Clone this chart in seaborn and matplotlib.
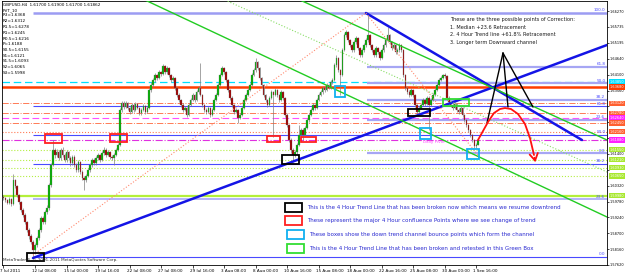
import numpy as np
import matplotlib
matplotlib.use("Agg")
import matplotlib.pyplot as plt
import matplotlib.transforms as mtransforms
from matplotlib.patches import Rectangle
import seaborn as sns

sns.set_style("white")
plt.rcParams['font.family'] = ['DejaVu Sans']

# ---------------- data ----------------
BASE, PIP = 1.5700, 0.0001
open_first = 295
close_pips = [
    290, 283, 273, 287, 270, 351, 331, 300, 277, 249,
    232, 208, 181, 161, 140, 113, 130, 154, 181, 222,
    208, 242, 256, 334, 403, 454, 437, 447, 426, 454,
    437, 420, 447, 426, 409, 430, 403, 386, 413, 379,
    358, 351, 365, 386, 403, 420, 409, 426, 437, 420,
    443, 454, 437, 447, 430, 426, 437, 454, 471, 590,
    614, 600, 614, 597, 583, 607, 590, 610, 597, 580,
    590, 603, 583, 597, 658, 675, 692, 709, 699, 719,
    712, 740, 719, 733, 709, 692, 699, 665, 641, 624,
    607, 590, 597, 573, 607, 624, 641, 624, 651, 665,
    641, 607, 590, 583, 597, 573, 590, 624, 641, 675,
    709, 733, 719, 692, 658, 631, 607, 583, 590, 563,
    573, 597, 624, 641, 658, 675, 709, 726, 753, 733,
    699, 675, 641, 624, 607, 631, 651, 641, 658, 641,
    624, 651, 631, 573, 539, 488, 454, 437, 447, 471,
    505, 522, 505, 529, 556, 573, 590, 607, 597, 624,
    641, 651, 665, 658, 675, 665, 685, 692, 743, 767,
    726, 709, 794, 845, 856, 828, 811, 794, 821, 835,
    801, 777, 794, 811, 828, 845, 811, 794, 777, 801,
    787, 767, 794, 811, 828, 845, 821, 801, 811, 787,
    794, 811, 794, 709, 665, 651, 641, 658, 641, 607,
    583, 597, 607, 624, 610, 631, 607, 624, 641, 658,
    675, 692, 699, 709, 706, 631, 617, 607, 597, 610,
    590, 583, 597, 573, 556, 539, 522, 505, 488, 466,
    470, 486]
high_pips = [
    300, 294, 287, 292, 290, 372, 356, 334, 305, 281,
    256, 238, 213, 188, 166, 146, 138, 160, 187, 230,
    229, 249, 266, 340, 410, 488, 462, 458, 452, 461,
    465, 442, 453, 451, 433, 437, 436, 410, 420, 417,
    384, 366, 372, 392, 410, 428, 426, 434, 445, 441,
    449, 463, 460, 455, 451, 436, 442, 459, 478, 597,
    622, 619, 620, 617, 601, 613, 612, 616, 614, 600,
    596, 610, 607, 604, 664, 684, 699, 716, 714, 726,
    724, 748, 744, 740, 737, 713, 706, 703, 668, 647,
    629, 612, 604, 601, 612, 630, 648, 645, 657, 672,
    750, 646, 611, 596, 603, 600, 595, 630, 648, 681,
    716, 740, 737, 723, 696, 662, 636, 611, 597, 594,
    580, 603, 630, 647, 664, 682, 716, 734, 767, 758,
    738, 703, 679, 646, 629, 637, 657, 656, 665, 663,
    645, 658, 655, 635, 578, 543, 493, 460, 455, 478,
    539, 530, 527, 535, 563, 580, 597, 613, 611, 630,
    647, 658, 671, 670, 681, 679, 691, 700, 750, 776,
    771, 730, 801, 853, 864, 860, 833, 816, 828, 842,
    839, 805, 800, 818, 836, 920, 850, 815, 798, 807,
    806, 791, 800, 817, 834, 873, 849, 826, 817, 815,
    800, 818, 815, 798, 714, 670, 657, 665, 663, 645,
    611, 603, 613, 630, 629, 637, 636, 630, 647, 664,
    682, 698, 706, 714, 716, 710, 636, 622, 612, 616,
    614, 595, 602, 600, 577, 560, 543, 526, 509, 492,
    476, 490]
low_pips = [
    284, 278, 268, 269, 264, 266, 325, 294, 270, 243,
    226, 201, 174, 152, 132, 89, 100, 124, 148, 176,
    200, 203, 236, 250, 328, 398, 428, 431, 418, 420,
    430, 412, 414, 419, 400, 402, 396, 378, 380, 372,
    350, 317, 344, 360, 380, 397, 401, 404, 420, 413,
    416, 438, 430, 432, 423, 418, 403, 433, 449, 466,
    584, 593, 595, 590, 575, 579, 584, 586, 592, 572,
    574, 586, 576, 578, 593, 652, 669, 686, 692, 694,
    705, 708, 713, 714, 703, 685, 687, 659, 634, 617,
    600, 583, 585, 566, 569, 603, 620, 618, 620, 646,
    636, 600, 584, 576, 579, 566, 568, 586, 619, 637,
    670, 704, 712, 686, 651, 624, 600, 576, 578, 545,
    558, 569, 592, 619, 636, 653, 670, 704, 720, 726,
    693, 668, 634, 617, 600, 603, 627, 498, 636, 635,
    617, 619, 625, 566, 532, 480, 445, 413, 430, 441,
    466, 498, 488, 500, 524, 550, 568, 585, 591, 592,
    619, 636, 646, 652, 653, 660, 661, 680, 688, 738,
    720, 641, 705, 790, 838, 821, 804, 787, 789, 816,
    795, 770, 772, 789, 806, 823, 805, 788, 770, 772,
    781, 760, 763, 789, 806, 823, 815, 795, 796, 780,
    782, 789, 788, 703, 658, 645, 634, 636, 634, 600,
    569, 578, 592, 602, 604, 606, 522, 602, 619, 636,
    653, 670, 687, 694, 700, 625, 611, 600, 590, 592,
    584, 576, 578, 567, 549, 532, 515, 498, 480, 460,
    462, 470]

x_tick_bars = [0, 16, 32, 48, 64, 80, 96, 112, 128, 144, 160, 176, 192, 208, 224, 240]
x_tick_labels = ["7 Jul 2011", "12 Jul 08:00", "15 Jul 00:00", "19 Jul 16:00", "22 Jul 08:00",
                 "27 Jul 08:00", "29 Jul 16:00", "3 Aug 08:00", "8 Aug 00:00", "10 Aug 16:00",
                 "15 Aug 08:00", "18 Aug 00:00", "22 Aug 16:00", "25 Aug 08:00", "30 Aug 00:00",
                 "1 Sep 16:00"]
y_tick_labels = ["1.66270", "1.65735", "1.65195", "1.64640", "1.64100", "1.63560", "1.63020",
                 "1.62480", "1.61940", "1.61400", "1.60860", "1.60320", "1.59780", "1.59240",
                 "1.58700", "1.58160", "1.57620"]

pivot_names = ["R3", "R2", "R1.5", "R1", "R0.5", "P", "S0.5", "S1", "S1.5", "S2", "S3"]
pivot_vals = [1.6368, 1.6312, 1.6278, 1.6245, 1.6216, 1.6188, 1.6155, 1.6121, 1.6093, 1.6065, 1.5998]
pivot_colors = ['#ff3d00', '#ff7a55', '#ff7a55', '#ff7a55', '#ff7a55', '#e030e0',
                '#b4ee44', '#b4ee44', '#b4ee44', '#b4ee44', '#b4f03a']
pivot_styles = ['-', '-.', '-.', '-.', ':', '-.', ':', ':', ':', ':', '-']
pivot_widths = [1.8, 0.7, 0.7, 0.7, 0.8, 0.8, 0.8, 0.8, 0.8, 0.8, 1.6]
extra_levels = [1.6385, 1.6264]
extra_colors = ['#00e0ff', '#ff50ff']

fib_ratios = [0.0, 23.6, 38.2, 50.0, 61.8, 100.0]
fib1_low, fib1_high, fib1_start = 1.5790, 1.6620, 15
fib2_low, fib2_high, fib2_start = 1.6143, 1.6620, 184.5

# trend lines: (bars, prices, color, width, style)
trend_lines = {
    "4h_uptrend": ([14.97, 306.35], [1.57857, 1.65112], '#1414e6', 1.8, '-'),
    "downtrend": ([184.0, 293.65], [1.66202, 1.61876], '#1414e6', 1.8, '-'),
    "channel_low": ([71.83, 306.35], [1.66645, 1.59254], '#22cc22', 1.0, '-'),
    "channel_high": ([150.5, 306.35], [1.66645, 1.61876], '#22cc22', 1.0, '-'),
    "channel_mid": ([112.44, 306.35], [1.66645, 1.60786], '#88dd66', 0.8, ':'),
    "fan_up": ([14.97, 184.0], [1.57959, 1.66202], '#ff8a70', 0.8, ':'),
    "fan_down": ([184.0, 241.9], [1.66202, 1.61263], '#ff8a70', 0.8, ':'),
    "proj_left": ([253.55, 245.43], [1.64839, 1.62455], '#000000', 1.0, '-'),
    "proj_mid": ([253.55, 256.09], [1.64839, 1.63000], '#000000', 1.0, '-'),
    "proj_right": ([253.55, 268.78], [1.64839, 1.63000], '#000000', 1.0, '-'),
}
arrow_bars = [240.86, 245.94, 248.98, 252.03, 254.57, 257.61, 261.17, 264.72, 267.26, 269.29, 270.3]
arrow_prices = [1.61876, 1.62489, 1.62796, 1.62932, 1.62966, 1.62932, 1.62762, 1.62421,
                1.61944, 1.61366, 1.61025]

# boxes: (bar0, bar1, price_low, price_high, color)
boxes = [
    (11.93, 20.56, 1.57755, 1.58027, 'black'),
    (141.37, 150.0, 1.61059, 1.61365, 'black'),
    (205.33, 216.5, 1.62694, 1.62932, 'black'),
    (21.07, 29.7, 1.61774, 1.62081, '#ff2020'),
    (54.06, 62.69, 1.61808, 1.62081, '#ff2020'),
    (133.76, 140.36, 1.61808, 1.62013, '#ff2020'),
    (151.0, 158.63, 1.61808, 1.61979, '#ff2020'),
    (168.27, 173.35, 1.63341, 1.63716, '#10b0f0'),
    (211.42, 217.0, 1.61910, 1.62285, '#10b0f0'),
    (235.28, 241.37, 1.61229, 1.61570, '#10b0f0'),
    (223.1, 236.3, 1.63034, 1.63273, '#33dd33'),
]

legend_colors = ['black', '#ff2020', '#10b0f0', '#33dd33']
legend_texts = [
    "This is the 4 Hour Trend Line that has been broken now which means we resume downtrend",
    "These represent the major 4 Hour confluence Points where we see change of trend",
    "These boxes show the down trend channel bounce points which form the channel",
    "This is the 4 Hour Trend Line that has been broken and retested in this Green Box",
]
note_lines = ["These are the three possible points of Correction:",
              "1. Median +23.6 Retracement",
              "2. 4 Hour Trend line +61.8% Retracement",
              "3. Longer term Downward channel"]
header = "GBPUSD,H4  1.61700 1.61900 1.61700 1.61862"

# ---------------- figure ----------------
W, H = 625, 272
fig = plt.figure(figsize=(W / 100, H / 100), dpi=100)
ax = fig.add_axes([2 / W, 7 / H, 605 / W, 264 / H])
ax.set_xlim(-0.76, 306.35)
ax.set_ylim(1.57619, 1.66611)

# horizontal pivot levels
for v, col, ls, lw in zip(pivot_vals, pivot_colors, pivot_styles, pivot_widths):
    ax.axhline(v, color=col, ls=ls, lw=lw, zorder=1)
ax.axhline(extra_levels[0], color=extra_colors[0], ls=(0, (6, 3)), lw=0.9, zorder=1)
ax.axhline(extra_levels[1], color=extra_colors[1], ls=(0, (6, 3)), lw=0.8, zorder=1)

# fibonacci levels
for r in fib_ratios:
    p1 = fib1_low + (fib1_high - fib1_low) * r / 100
    if r == 100.0:
        ax.hlines(p1, fib1_start, 306.35, color='#9c9cf2', lw=1.8, zorder=1)
    elif r == 23.6:
        ax.hlines(p1, fib1_start, 306.35, color='#a8a8f8', lw=1.2, zorder=1)
    else:
        ax.hlines(p1, fib1_start, 306.35, color='#4a4aff', lw=0.8, zorder=1)
    ax.text(305.5, p1 + 0.0002, f"{r:.1f}", color='#4a4aff', fontsize=3, ha='right', va='bottom')
    if r not in (0.0, 100.0):
        p2 = fib2_low + (fib2_high - fib2_low) * r / 100
        ax.hlines(p2, fib2_start, 306.35, color='#a6a6f4', lw=1.6, zorder=1)
        ax.text(305.5, p2 + 0.0002, f"{r:.1f}", color='#4a4aff', fontsize=3, ha='right', va='bottom')
ax.hlines(fib2_low, fib2_start, 306.35, color='#a6a6f4', lw=1.6, zorder=1)
ax.text(305.5, fib2_low + 0.0002, "0.0", color='#4a4aff', fontsize=3, ha='right', va='bottom')

# candles
c = BASE + np.array(close_pips) * PIP
o = np.r_[BASE + open_first * PIP, c[:-1]]
hi = BASE + np.array(high_pips) * PIP
lo = BASE + np.array(low_pips) * PIP
idx = np.arange(len(c))
ax.vlines(idx, lo, hi, color='#808080', lw=0.5, zorder=3)
up = c >= o
body = np.maximum(np.abs(c - o), 0.00008)
bottom = np.minimum(o, c)
ax.bar(idx[up], body[up], bottom=bottom[up], width=0.8, color='#00b000',
       edgecolor='#707070', linewidth=0.2, zorder=4)
ax.bar(idx[~up], body[~up], bottom=bottom[~up], width=0.8, color='#a00000',
       edgecolor='#707070', linewidth=0.2, zorder=4)

# trend lines (seaborn)
for name, (xs, ys, col, lw, ls) in trend_lines.items():
    sns.lineplot(x=xs, y=ys, ax=ax, color=col, lw=lw, linestyle=ls, sort=False,
                 estimator=None, legend=False, zorder=5)

# red projection arrow
sns.lineplot(x=arrow_bars[:-1], y=arrow_prices[:-1], ax=ax, color='#ff1010', lw=1.3,
             sort=False, estimator=None, legend=False, zorder=6)
ax.annotate('', xy=(arrow_bars[-1], arrow_prices[-1]), xytext=(arrow_bars[-2], arrow_prices[-2]),
            arrowprops=dict(arrowstyle='->,head_length=0.5,head_width=0.3', color='#ff1010', lw=1.3),
            zorder=6)

# boxes
for b0, b1, pl, ph, col in boxes:
    ax.add_patch(Rectangle((b0, pl), b1 - b0, ph - pl, fill=False, edgecolor=col, lw=1.3, zorder=7))

ax.text(213, 1.6182, "Daily Pivot", color='#ff50ff', fontsize=3, ha='left', va='center')

# right price tags
tag_prices = [extra_levels[0]] + pivot_vals[:4] + [extra_levels[1]] + pivot_vals[4:]
tag_colors = [extra_colors[0]] + pivot_colors[:4] + ['#ff20ff'] + pivot_colors[4:]
tag_colors = ['#ff20ff' if col == '#e030e0' else col for col in tag_colors]
tag_colors = ['#ff6030' if col == '#ff7a55' else col for col in tag_colors]
tag_colors = ['#a8e830' if col in ('#b4ee44', '#b4f03a') else col for col in tag_colors]

# axes styling
for s in ax.spines.values():
    s.set_color('black')
    s.set_linewidth(0.6)
ax.yaxis.tick_right()
ytick_vals = [float(t) for t in y_tick_labels]
# labels hidden beneath a price tag are left blank, as in the terminal
shown = ['' if min(abs(v - p) for p in tag_prices) < 0.0012 else t
         for v, t in zip(ytick_vals, y_tick_labels)]
ax.set_yticks(ytick_vals)
ax.set_yticklabels(shown)
ax.set_xticks(x_tick_bars)
ax.set_xticklabels(x_tick_labels, ha='left')
ax.tick_params(axis='x', length=2, width=0.5, pad=1, labelsize=3, colors='black', bottom=True)
ax.tick_params(axis='y', length=1.5, width=0.5, pad=0.5, labelsize=2.5, colors='black',
               right=True, left=False)
offset = mtransforms.ScaledTranslation(-3 / 100, 0, fig.dpi_scale_trans)
for lab in ax.get_xticklabels():
    lab.set_transform(lab.get_transform() + offset)
ax.set_xlabel('')
ax.set_ylabel('')

trans = mtransforms.blended_transform_factory(ax.transAxes, ax.transData)
for p, col in zip(tag_prices, tag_colors):
    ax.text(1.004, p, f"{p:.5f}", transform=trans, fontsize=2.5, color='white', ha='left',
            va='center', clip_on=False, zorder=10,
            bbox=dict(boxstyle='square,pad=0.2', facecolor=col, edgecolor='none'))

# top-left info text
fig.text(3 / W, 1 - 5 / H, header, fontsize=3, va='center', ha='left', color='black')
fig.text(3 / W, 1 - 10.5 / H, "PVT_10", fontsize=3, va='center', ha='left', color='black')
for i, (n, v) in enumerate(zip(pivot_names, pivot_vals)):
    fig.text(3 / W, 1 - (15.5 + 5.75 * i) / H, f"{n}={v:.4f}", fontsize=3, va='center',
             ha='left', color='black')

# top-right note
for i, line in enumerate(note_lines):
    fig.text(450 / W, 1 - (19.5 + 7.7 * i) / H, line, fontsize=3.6, va='center', ha='left',
             color='#1a1a1a')

# legend
legend_y = [207.5, 220.5, 234.5, 248]
legend_x0 = [285, 285, 287, 287]
for y, x0, col, txt in zip(legend_y, legend_x0, legend_colors, legend_texts):
    fig.patches.append(Rectangle((x0 / W, 1 - (y + 4.5) / H), 17 / W, 9 / H, fill=False,
                                 edgecolor=col, lw=1.3, transform=fig.transFigure, figure=fig))
    fig.text((x0 + 22) / W, 1 - y / H, txt, fontsize=4, va='center', ha='left', color='#2a2ad0')

fig.text(3 / W, 1 - 259.5 / H, "MetaTrader 4, \u00a9 2001-2011 MetaQuotes Software Corp.",
         fontsize=3, va='center', ha='left', color='#303030')

fig.savefig("out.png", dpi=100)
